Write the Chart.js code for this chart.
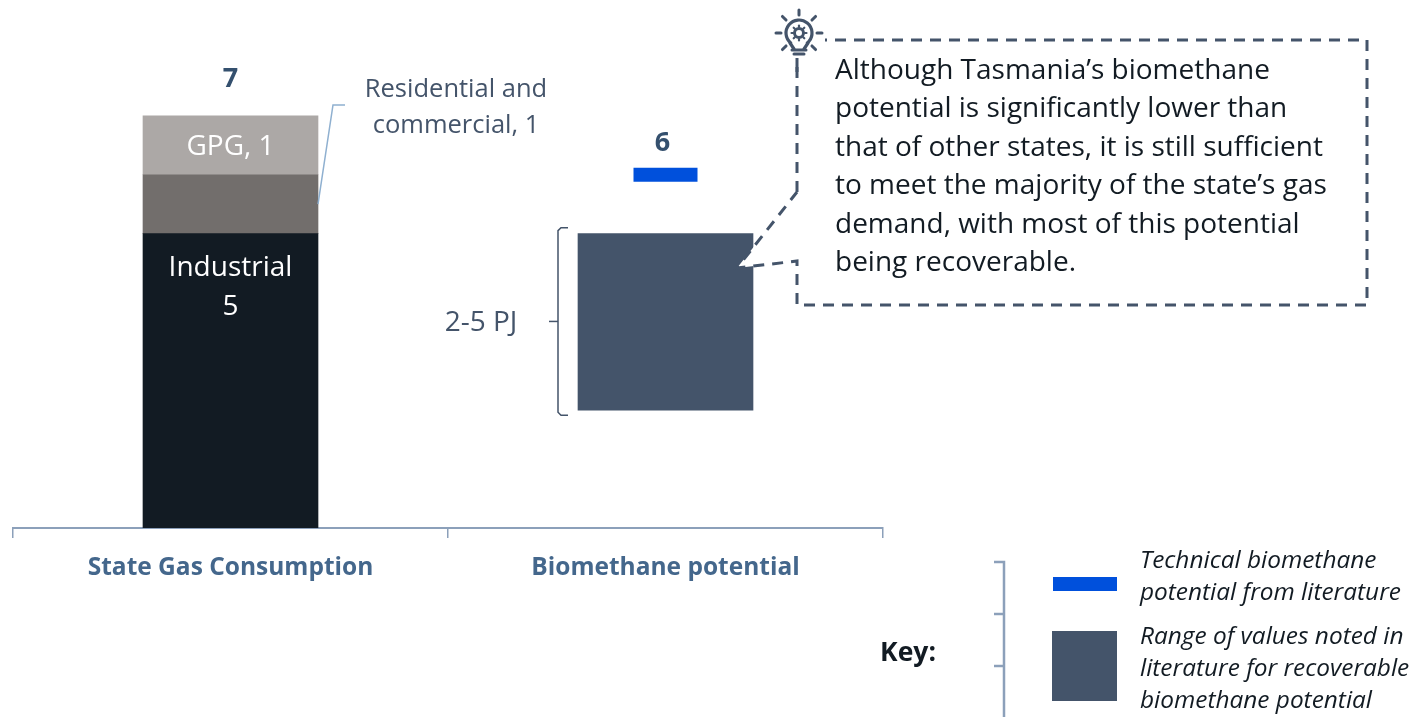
<!DOCTYPE html>
<html>
<head>
<meta charset="utf-8">
<script src="https://cdn.jsdelivr.net/npm/chart.js@4"></script>
<style>
  html, body { margin: 0; padding: 0; background: #fff; overflow: hidden; }
  canvas { display: block; }
</style>
</head>
<body>
<canvas id="gasChart" width="1411" height="717"></canvas>
<script>
const categories = ['State Gas Consumption', 'Biomethane potential'];
const industrial = [5, null];
const residential = [1, null];
const gpg = [1, null];
const recoverableRange = [null, [2, 5]];
const technicalPotential = [null, 6];
const totals = [7, 6];

const calloutLines = [
  'Although Tasmania\u2019s biomethane',
  'potential is significantly lower than',
  'that of other states, it is still sufficient',
  'to meet the majority of the state\u2019s gas',
  'demand, with most of this potential',
  'being recoverable.'
];
const keyTechnical = ['Technical biomethane', 'potential from literature'];
const keyRange = ['Range of values noted in', 'literature for recoverable', 'biomethane potential'];

const FONT = '"Open Sans", sans-serif';
const DARK = '#121b23';
const SLATE = '#44546a';
const BLUE = '#0050dc';
const AXIS = '#8ca0ba';

function text(ctx, str, x, y, font, color, align) {
  ctx.font = font + ' ' + FONT;
  ctx.fillStyle = color;
  ctx.textAlign = align || 'center';
  ctx.textBaseline = 'middle';
  ctx.fillText(str, x, y + 2);
}

function path(ctx, pts, color, width, dash) {
  ctx.strokeStyle = color;
  ctx.lineWidth = width;
  ctx.setLineDash(dash || []);
  ctx.beginPath();
  pts.forEach((p, i) => i ? ctx.lineTo(p[0], p[1]) : ctx.moveTo(p[0], p[1]));
  ctx.stroke();
  ctx.setLineDash([]);
}

function drawBulb(ctx, cx, cy) {
  ctx.fillStyle = '#fff';
  ctx.fillRect(cx - 26, cy - 26, 52, 56);
  ctx.lineCap = 'round';
  // rays
  [[0, -1], [-1, 0], [1, 0], [-0.72, -0.72], [0.72, -0.72], [-0.72, 0.72], [0.72, 0.72]].forEach(d => {
    path(ctx, [[cx + d[0] * 18, cy + d[1] * 18], [cx + d[0] * 23, cy + d[1] * 23]], SLATE, 3);
  });
  // glass
  ctx.strokeStyle = SLATE;
  ctx.lineWidth = 3.2;
  ctx.beginPath();
  ctx.arc(cx, cy, 13, Math.PI * 0.72, Math.PI * 0.28);
  ctx.stroke();
  path(ctx, [[cx - 9, cy + 10], [cx - 5, cy + 16]], SLATE, 3.2);
  path(ctx, [[cx + 9, cy + 10], [cx + 5, cy + 16]], SLATE, 3.2);
  path(ctx, [[cx - 7, cy + 17], [cx + 7, cy + 17]], SLATE, 3);
  path(ctx, [[cx - 5, cy + 21], [cx + 5, cy + 21]], SLATE, 3);
  // gear
  ctx.beginPath();
  ctx.arc(cx, cy, 4.5, 0, Math.PI * 2);
  ctx.lineWidth = 3;
  ctx.stroke();
  for (let a = 0; a < 8; a++) {
    const c = Math.cos(a * Math.PI / 4), s = Math.sin(a * Math.PI / 4);
    path(ctx, [[cx + c * 6, cy + s * 6], [cx + c * 7.5, cy + s * 7.5]], SLATE, 2.2);
  }
  ctx.lineCap = 'butt';
}

const decorations = {
  id: 'decorations',
  afterDraw(chart) {
    const ctx = chart.ctx;
    const x = chart.scales.x;
    const y = chart.scales.y;
    const c0 = x.getPixelForValue(0);
    const c1 = x.getPixelForValue(1);
    ctx.save();

    // labels on and above the bars
    text(ctx, String(totals[0]), c0, 77, 'bold 27px', '#34506e');
    text(ctx, String(totals[1]), c1 - 3, 141, 'bold 27px', '#34506e');
    text(ctx, 'GPG, ' + gpg[0], c0, y.getPixelForValue(6.5), '28px', '#ffffff');
    text(ctx, 'Industrial', c0, 266, '28px', '#ffffff');
    text(ctx, String(industrial[0]), c0, 305, '28px', '#ffffff');

    // leader for residential and commercial
    const barRight = c0 + 87.5;
    path(ctx, [[barRight, y.getPixelForValue(5.5)], [333, 105], [345, 105]], '#8fb0d0', 1.5);
    text(ctx, 'Residential and', 456, 88, '25.5px', SLATE);
    text(ctx, 'commercial, ' + residential[0], 456, 124, '25.5px', SLATE);

    // brace round the recoverable range
    const braceTop = y.getPixelForValue(recoverableRange[1][1]) - 6;
    const braceBottom = y.getPixelForValue(recoverableRange[1][0]) + 5;
    const braceMid = (braceTop + braceBottom) / 2;
    path(ctx, [[568, braceTop], [561, braceTop], [558, braceTop + 3], [558, braceBottom - 3], [561, braceBottom], [568, braceBottom]], SLATE, 1.5);
    path(ctx, [[549, braceMid], [558, braceMid]], SLATE, 1.5);
    text(ctx, recoverableRange[1][0] + '-' + recoverableRange[1][1] + ' PJ', 481, braceMid, '28px', SLATE);

    // callout, white inside so its pointer cuts a wedge out of the bar
    const callout = [[797, 192], [797, 40], [1367, 40], [1367, 305], [797, 305], [797, 261], [737, 268], [797, 192]];
    ctx.fillStyle = '#ffffff';
    ctx.beginPath();
    callout.forEach((p, i) => i ? ctx.lineTo(p[0], p[1]) : ctx.moveTo(p[0], p[1]));
    ctx.fill();
    path(ctx, callout, SLATE, 3, [11, 8]);
    drawBulb(ctx, 799, 33);
    path(ctx, [[797, 58], [797, 72]], SLATE, 3);
    calloutLines.forEach((l, i) => {
      text(ctx, l, 835, 69 + i * 38.4, '28px', DARK, 'left');
    });

    // key
    text(ctx, 'Key:', 908, 651, 'bold 26.5px', DARK);
    path(ctx, [[994, 562], [1004, 562], [1004, 717]], AXIS, 2.5);
    path(ctx, [[994, 614], [1004, 614]], AXIS, 2.5);
    path(ctx, [[994, 666], [1004, 666]], AXIS, 2.5);
    ctx.fillStyle = BLUE;
    ctx.fillRect(1053, 577, 64, 14);
    ctx.fillStyle = SLATE;
    ctx.fillRect(1052, 631, 65, 70);
    keyTechnical.forEach((l, i) => text(ctx, l, 1140, 559 + i * 32, 'italic 24.4px', DARK, 'left'));
    keyRange.forEach((l, i) => text(ctx, l, 1140, 635 + i * 32, 'italic 24.4px', DARK, 'left'));

    ctx.restore();
  }
};

new Chart(document.getElementById('gasChart'), {
  data: {
    labels: categories,
    datasets: [
      { type: 'bar', label: 'Industrial', data: industrial, backgroundColor: DARK, barThickness: 175 },
      { type: 'bar', label: 'Residential and commercial', data: residential, backgroundColor: '#726e6c', barThickness: 175 },
      { type: 'bar', label: 'GPG', data: gpg, backgroundColor: '#aca8a6', barThickness: 175 },
      { type: 'bar', label: 'Recoverable range', data: recoverableRange, backgroundColor: SLATE, barThickness: 175 },
      {
        type: 'line',
        label: 'Technical potential',
        data: technicalPotential,
        showLine: false,
        pointStyle: 'line',
        pointRadius: 32,
        pointBorderWidth: 14,
        pointBorderColor: BLUE,
        pointBackgroundColor: BLUE
      }
    ]
  },
  options: {
    responsive: false,
    animation: false,
    events: [],
    layout: { autoPadding: false, padding: { left: 13, right: 528, top: 57, bottom: 0 } },
    plugins: { legend: { display: false }, tooltip: { enabled: false } },
    scales: {
      x: {
        stacked: true,
        afterFit(scale) {
          scale.height = 189;
          scale.paddingLeft = 0;
          scale.paddingRight = 0;
        },
        border: { color: AXIS, width: 2 },
        grid: { drawOnChartArea: false, drawTicks: true, tickLength: 10, color: AXIS, lineWidth: 1.5, offset: true },
        ticks: {
          padding: 15,
          maxRotation: 0,
          color: '#44678c',
          font: { family: FONT, size: 24.5, weight: 'bold' }
        }
      },
      y: {
        display: false,
        stacked: true,
        min: 0,
        max: 8
      }
    }
  },
  plugins: [decorations]
});
</script>
</body>
</html>
